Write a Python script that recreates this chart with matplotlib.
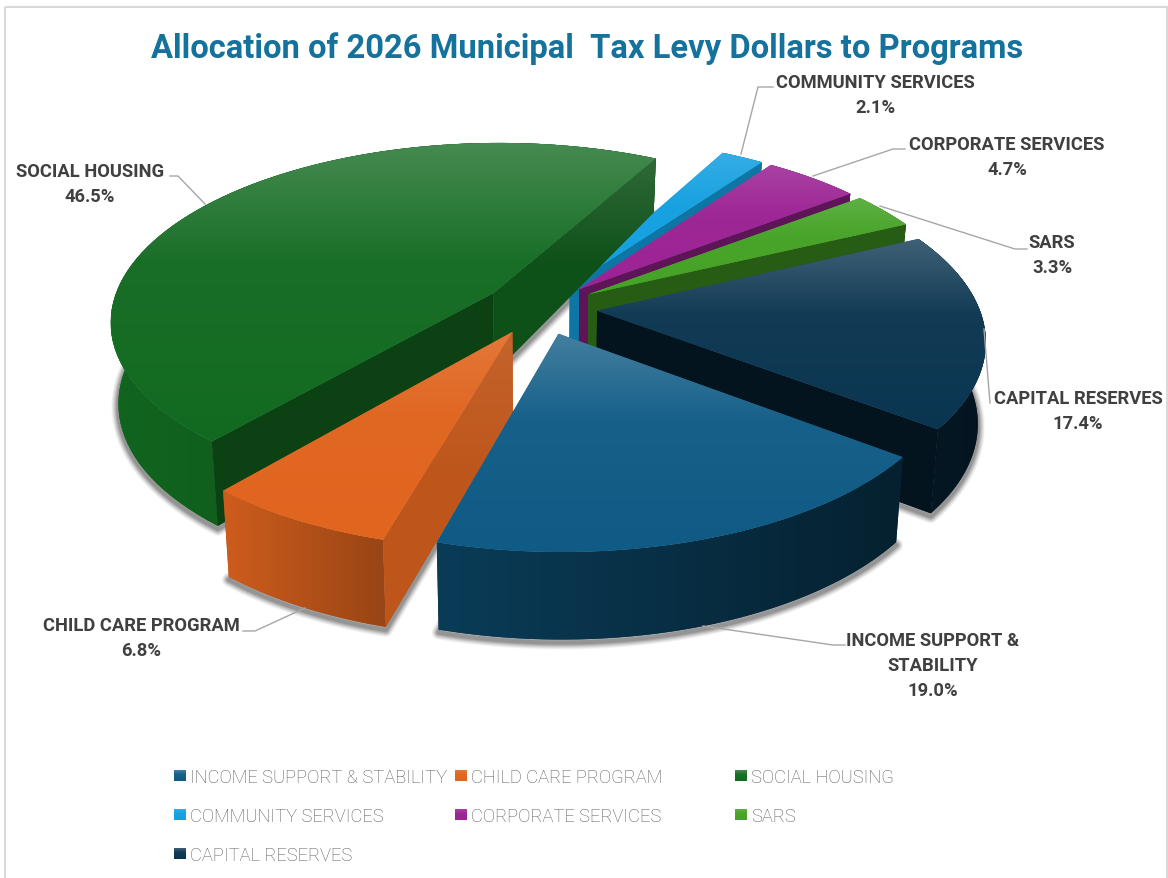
#!/usr/bin/env python3
# 3D exploded pie of the 2026 municipal tax levy allocation

import numpy as np
import matplotlib
matplotlib.use('Agg')
import matplotlib.pyplot as plt
from matplotlib.colors import to_rgb
from matplotlib.patches import Polygon, Rectangle

# DATA
programs = ['INCOME SUPPORT & STABILITY', 'CHILD CARE PROGRAM', 'SOCIAL HOUSING',
            'COMMUNITY SERVICES', 'CORPORATE SERVICES', 'SARS', 'CAPITAL RESERVES']
shares = [19.0, 6.8, 46.5, 2.1, 4.7, 3.3, 17.4]
base_colors = ['#0f5b85', '#e0651f', '#126a20', '#14a0e0', '#9c2394', '#45a326', '#0a3550']

# label text lines, centre x, y of first line
label_lines = [['INCOME SUPPORT &', 'STABILITY'], ['CHILD CARE PROGRAM'], ['SOCIAL HOUSING'],
               ['COMMUNITY SERVICES'], ['CORPORATE SERVICES'], ['SARS'], ['CAPITAL RESERVES']]
label_x = [933, 141, 90, 875, 1007, 1052, 1078]
label_y = [641, 626, 172, 83, 145, 243, 399]
leaders = [[(703, 627), (833, 646), (845, 646)],
           [(305, 609), (255, 632), (243, 632)],
           [(205, 205), (178, 177), (170, 177)],
           [(741, 155), (758, 88), (773, 88)],
           [(813, 177), (893, 150), (905, 150)],
           [(880, 207), (1015, 250), (1027, 250)],
           [(984, 330), (990, 404)]]

# shading relative to the base colour
top_light = [0.22, 0.12, 0.22, 0.14, 0.14, 0.14, 0.22]
wall_left = [0.66, 0.92, 0.95, 0.72, 0.62, 0.6, 0.45]
wall_right = [0.36, 0.68, 0.7, 0.72, 0.6, 0.58, 0.4]
start_shade = [0.6, 0.85, 0.62, 0.7, 0.6, 0.57, 0.45]
end_shade = [0.6, 0.85, 0.76, 0.74, 0.6, 0.57, 0.38]
start_light = [0, 0.08, 0, 0, 0, 0, 0]
end_light = [0, 0, 0.14, 0, 0, 0, 0]

# camera
W, H = 1168, 879
CX, CY = 540, 309
RX, RY = 382, 177
PERSP = 0.15
EXPLODE = 0.15
ROTATION = 127.3
BOTTOM = 0.982

plt.rcParams['font.family'] = ['Roboto', 'DejaVu Sans']

fig = plt.figure(figsize=(W / 100, H / 100), dpi=100)
ax = fig.add_axes([0, 0, 1, 1])
zcount = [2]


def next_z():
    zcount[0] += 1
    return zcount[0]


def shade(color, f):
    return tuple(min(1, c * f) for c in to_rgb(color))


def lighten(color, f):
    return tuple(c + (1 - c) * f for c in color)


def project(X, Y, bottom=False):
    X, Y = np.asarray(X, float), np.asarray(Y, float)
    s = 1 / (1 - PERSP * Y)
    if not bottom:
        return CX + RX * X * s, CY + RY * Y * s
    depth = np.interp(Y, [-1, -0.1, 0.6, 1.15], [50, 80, 86, 92])
    return CX + BOTTOM * RX * X * s, CY + BOTTOM * RY * Y * s + depth


def fill_gradient(poly, stops, colors, vertical=True):
    poly = np.asarray(poly)
    ramp = np.linspace(0, 1, 256)
    cols = np.array(colors)
    rgb = np.stack([np.interp(ramp, stops, cols[:, c]) for c in range(3)], axis=-1)
    img = rgb[:, None, :] if vertical else rgb[None, :, :]
    x0, x1 = poly[:, 0].min(), poly[:, 0].max()
    y0, y1 = poly[:, 1].min(), poly[:, 1].max()
    z = next_z()
    # flat underlay keeps the polygon edge antialiased
    ax.add_patch(Polygon(poly, closed=True, fc=tuple(cols.mean(axis=0)), ec='none', zorder=z))
    im = ax.imshow(img, extent=(x0, x1, y1, y0), aspect='auto', interpolation='bilinear', zorder=z)
    im.set_clip_path(Polygon(poly, closed=True, transform=ax.transData))


def top_gradient(poly, color, light=0.22):
    base = to_rgb(color)
    fill_gradient(poly, [0, 0.4, 1], [lighten(base, light), lighten(base, light * 0.14), base])


def face_gradient(poly, color, light):
    fill_gradient(poly, [0, 0.5, 1], [lighten(color, light), color, color])


# slice angles, clockwise from the back of the disc
fractions = np.array(shares) / sum(shares) * 360
starts = ROTATION + np.concatenate([[0], np.cumsum(fractions)[:-1]])
ends = starts + fractions
mids = (starts + ends) / 2

slices = []
for i in range(len(shares)):
    ex = EXPLODE * np.sin(np.radians(mids[i]))
    ey = -EXPLODE * np.cos(np.radians(mids[i]))
    t = np.radians(np.linspace(starts[i], ends[i], 80))
    X = ex + np.sin(t)
    Y = ey - np.cos(t)
    slices.append(dict(
        apex=np.array(project(ex, ey)),
        apex_b=np.array(project(ex, ey, True)),
        top=np.column_stack(project(X, Y)),
        bot=np.column_stack(project(X, Y, True)),
        depth=ey,
    ))

# soft shadow under every slice, drawn first
for s in slices:
    outline = np.vstack([s['apex_b'], s['bot']]) + [0, 3]
    for lw, a in zip([14, 12, 10, 8, 6, 4], [0.05, 0.07, 0.09, 0.11, 0.13, 0.15]):
        ax.add_patch(Polygon(outline, closed=True, fc='none', ec='#222222', alpha=a,
                             lw=lw * 0.72, joinstyle='round', zorder=1))


def signed_area(p):
    x, y = p[:, 0], p[:, 1]
    return np.sum(x * np.roll(y, -1) - np.roll(x, -1) * y)


# back slices first
for i in np.argsort([s['depth'] for s in slices]):
    s = slices[i]
    color = base_colors[i]
    # outer wall
    poly = np.vstack([s['top'], s['bot'][::-1]])
    fill_gradient(poly, [0, 1], [shade(color, wall_left[i]), shade(color, wall_right[i])], vertical=False)
    # cut faces, only where they turn toward the viewer
    face = np.array([s['apex'], s['top'][0], s['bot'][0], s['apex_b']])
    if signed_area(face) < 0:
        face_gradient(face, shade(color, start_shade[i]), start_light[i])
    face = np.array([s['apex'], s['top'][-1], s['bot'][-1], s['apex_b']])
    if signed_area(face) > 0:
        face_gradient(face, shade(color, end_shade[i]), end_light[i])
    # top surface
    top_gradient(np.vstack([s['apex'], s['top']]), color, top_light[i])

# TITLE
ax.text(587, 49, 'Allocation of 2026 Municipal  Tax Levy Dollars to Programs', ha='center', va='center',
        fontsize=23.6, fontweight='bold', color='#14729c', zorder=500)

# DATA LABELS
for i, lines in enumerate(label_lines):
    for j, line in enumerate(lines + ['{:.1f}%'.format(shares[i])]):
        ax.text(label_x[i], label_y[i] + 25 * j, line, ha='center', va='center', fontsize=13.2,
                fontweight='bold', color='#404040', zorder=500)
    ax.plot(*zip(*leaders[i]), color='#a6a6a6', lw=1.0, zorder=499, solid_joinstyle='round')

# LEGEND
legend_x = [174, 455, 735]
legend_y = [777, 816, 855]
for i, name in enumerate(programs):
    lx = legend_x[i % 3]
    ly = legend_y[i // 3]
    marker = [(lx, ly - 6), (lx + 12, ly - 6), (lx + 12, ly + 5), (lx, ly + 5)]
    top_gradient(marker, base_colors[i], top_light[i])
    ax.text(lx + 16, ly + 1, name, ha='left', va='center', fontsize=13.25, fontweight='light',
            color='#5a5a5a', zorder=500)

# chart frame
ax.add_patch(Rectangle((5, 8), 1162, 900, fc='none', ec='#d9d9d9', lw=1.5, zorder=0.5))

ax.set_xlim(0, W)
ax.set_ylim(H, 0)
ax.axis('off')
fig.savefig('out.png', dpi=100)
